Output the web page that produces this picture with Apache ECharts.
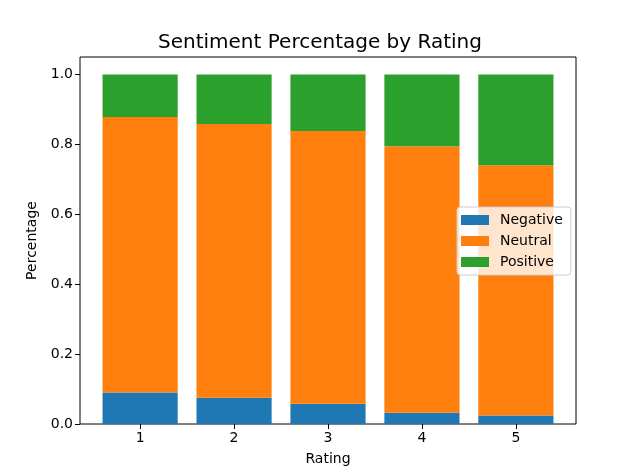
<!DOCTYPE html>
<html>
<head>
<meta charset="utf-8">
<script src="https://cdn.jsdelivr.net/npm/echarts@6/dist/echarts.min.js"></script>
<style>html,body{margin:0;padding:0;background:#fff}#c{width:640px;height:476px}</style>
</head>
<body>
<div id="c"></div>
<script>
var ratings = ['1', '2', '3', '4', '5'];
var negative = [0.090, 0.075, 0.058, 0.032, 0.024];
var neutral = [0.788, 0.783, 0.780, 0.763, 0.716];
var positive = [0.122, 0.142, 0.162, 0.205, 0.260];
var yTicks = [0, 0.2, 0.4, 0.6, 0.8, 1.0];

var font = 'DejaVu Sans';
function bar(name, vals, color) {
  return {
    name: name, type: 'bar', stack: 'total', data: vals, barWidth: '80%',
    xAxisIndex: 1, yAxisIndex: 1,
    itemStyle: { color: color }, emphasis: { disabled: true }
  };
}
var chart = echarts.init(document.getElementById('c'), null, { renderer: 'canvas' });
chart.setOption({
  animation: false,
  title: {
    text: 'Sentiment Percentage by Rating', left: 'center', top: 28,
    textStyle: { fontFamily: font, fontSize: 20, fontWeight: 'normal', color: '#000' }
  },
  grid: [
    { left: 80, right: 64, top: 57, bottom: 52, show: true, borderColor: '#000', borderWidth: 1, backgroundColor: 'transparent' },
    { left: 93.15, right: 77.15, top: 57, bottom: 52 }
  ],
  legend: {
    orient: 'vertical', left: 457, top: 207,
    padding: [6, 8, 6, 4], itemGap: 7, itemWidth: 28, itemHeight: 10,
    backgroundColor: 'rgba(255,255,255,0.8)', borderColor: '#cccccc', borderWidth: 1, borderRadius: 3,
    icon: 'rect',
    textStyle: { fontFamily: font, fontSize: 14, color: '#000', lineHeight: 14, padding: [0, 0, 0, 6] },
    data: ['Negative', 'Neutral', 'Positive']
  },
  xAxis: [
    { type: 'value', gridIndex: 0, show: false },
    {
      type: 'category', gridIndex: 1, data: ratings, boundaryGap: true,
      name: 'Rating', nameLocation: 'middle', nameGap: 28,
      nameTextStyle: { fontFamily: font, fontSize: 14, color: '#000' },
      axisLine: { show: false },
      axisTick: { show: true, alignWithLabel: true, length: 5, lineStyle: { color: '#000' } },
      axisLabel: { fontFamily: font, fontSize: 14, color: '#000', margin: 7 },
      splitLine: { show: false }
    }
  ],
  yAxis: [
    { type: 'value', gridIndex: 0, show: false },
    {
      type: 'value', gridIndex: 1, min: 0, max: 1.05, offset: 13.15,
      name: 'Percentage', nameLocation: 'middle', nameGap: 36,
      nameTextStyle: { fontFamily: font, fontSize: 14, color: '#000' },
      axisLine: { show: false },
      axisTick: { show: true, length: 5, lineStyle: { color: '#000' }, customValues: yTicks },
      axisLabel: { fontFamily: font, fontSize: 14, color: '#000', margin: 7, customValues: yTicks,
        formatter: function (v) { return v.toFixed(1); } },
      splitLine: { show: false }
    }
  ],
  series: [
    bar('Negative', negative, '#1f77b4'),
    bar('Neutral', neutral, '#ff7f0e'),
    bar('Positive', positive, '#2ca02c')
  ]
});
</script>
</body>
</html>
